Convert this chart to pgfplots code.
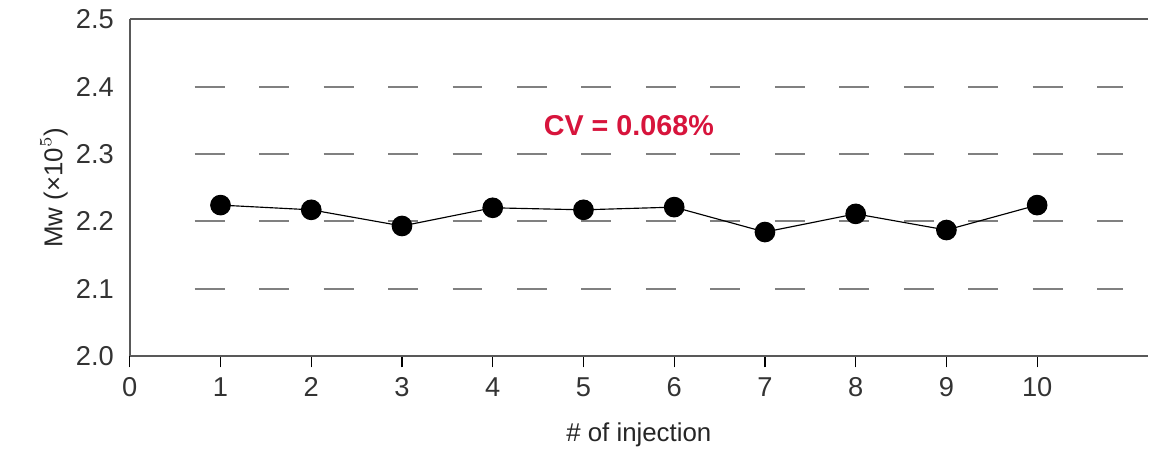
\documentclass[border=0pt]{standalone}
\usepackage{pgfplots}
\pgfplotsset{compat=1.18}
\usepackage{fontspec}
\setmainfont{Liberation Sans}
\definecolor{cvred}{RGB}{215,20,60}
\begin{document}
\begin{tikzpicture}
\begin{axis}[
  scale only axis, width=354.6pt, height=117.3pt,
  xmin=0, xmax=11.22, ymin=2.0, ymax=2.5,
  axis lines=left, axis line style={-, gray!70!black, line width=0.8pt},
  xtick={0,...,10}, ytick={2.0,2.1,2.2,2.3,2.4,2.5},
  yticklabel style={/pgf/number format/.cd,fixed,fixed zerofill,precision=1},
  /pgf/number format/assume math mode=true,
  tick style={black, thin}, major tick length=4pt, xtick align=outside,
  ytick style={draw=none},
  ticklabel style={font=\fontsize{9.5}{11}\selectfont, text=black!80},
  xlabel={\# of injection}, ylabel={Mw (×10$^5$)},
  label style={font=\fontsize{9}{11}\selectfont, text=black!85},
  xlabel style={yshift=-2pt},
  ylabel style={yshift=-4pt},
  clip=false,
]
\coordinate (o) at (rel axis cs:0,0);
\coordinate (t) at (rel axis cs:1,1);
\draw[gray!70!black, line width=0.8pt] (rel axis cs:0,1) -- (rel axis cs:1,1);
\foreach \yy in {2.1,2.2,2.3,2.4}{
  \edef\tmp{\noexpand\draw[gray, line width=0.7pt, dash pattern=on 10.4pt off 12.05pt] (axis cs:0.716,\yy) -- (axis cs:10.95,\yy);}\tmp
}
\addplot[black, thin, mark=*, mark size=3.4pt] coordinates {
(1,2.224) (2,2.217) (3,2.193) (4,2.220) (5,2.217) (6,2.221) (7,2.184) (8,2.211) (9,2.187) (10,2.224)};
\node[text=cvred, font=\bfseries\fontsize{10}{12}\selectfont] at (axis cs:5.5,2.342) {CV = 0.068\%};
\end{axis}
\useasboundingbox ([shift={(-45.2pt,-30.3pt)}]o) rectangle ([shift={(0pt,6.3pt)}]t);
\end{tikzpicture}
\end{document}
